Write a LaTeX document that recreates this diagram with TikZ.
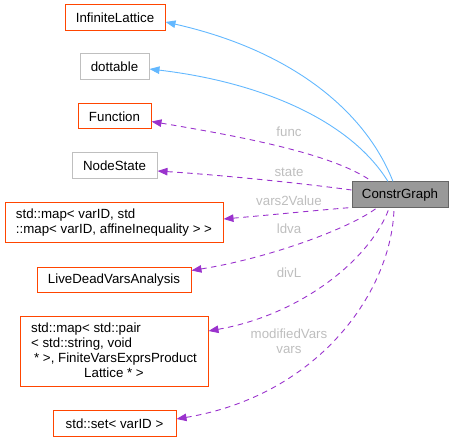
\documentclass[tikz,border=0pt]{standalone}
\usepackage{fontspec}
\setmainfont{Liberation Sans}
\usetikzlibrary{arrows.meta}
\definecolor{boxred}{HTML}{FF4500}
\definecolor{boxgray}{HTML}{BFBFBF}
\definecolor{inh}{HTML}{63B8FF}
\definecolor{use}{HTML}{9A32CD}
\definecolor{lblgray}{HTML}{BEBEBE}
\definecolor{cgfill}{HTML}{999999}
\definecolor{cgdraw}{HTML}{666666}
\tikzset{
  base/.style={draw, line width=1pt, inner sep=0pt, anchor=center,
    font=\fontsize{13.3}{14.8}\selectfont},
  redbox/.style={base, draw=boxred},
  graybox/.style={base, draw=boxgray},
  cgbox/.style={base, draw=cgdraw, fill=cgfill},
  inhedge/.style={draw=inh, line width=0.9pt, {Triangle[length=10pt,width=7.5pt]}-},
  useedge/.style={draw=use, line width=0.9pt, dash pattern=on 5.5pt off 4.5pt,
    {Triangle[length=10pt,width=7.5pt]}-},
  lbl/.style={text=lblgray, inner sep=0pt, font=\fontsize{13.3}{14.8}\selectfont, align=center}
}
\begin{document}
\begin{tikzpicture}[x=1pt,y=-1pt]
\useasboundingbox (0,0) rectangle (453,443);
\node[redbox, minimum width=100pt, minimum height=26pt] (il) at (115,18) {InfiniteLattice};
\node[graybox, minimum width=69pt, minimum height=26pt] (dt) at (114.5,67) {dottable};
\node[redbox, minimum width=73pt, minimum height=25pt] (fn) at (114.5,116.5) {Function};
\node[graybox, minimum width=85pt, minimum height=26pt] (ns) at (114.5,166) {NodeState};
\node[redbox, minimum width=218pt, minimum height=40pt] (vm) at (114,223)
  {\begin{tabular}{@{}l@{}}std::map< varID, std\\::map< varID, affineInequality > >\end{tabular}};
\node[redbox, minimum width=154pt, minimum height=25pt] (ld) at (114,280.5) {LiveDeadVarsAnalysis};
\node[redbox, minimum width=188pt, minimum height=70pt] (pm) at (114,352)
  {\begin{tabular}{@{}l@{}}std::map< std::pair\\< std::string, void\\\hspace{3pt}* >, FiniteVarsExprsProduct\\\multicolumn{1}{@{}c@{}}{Lattice * >}\end{tabular}};
\node[redbox, minimum width=123pt, minimum height=26pt] (st) at (114.5,424) {std::set< varID >};
\node[cgbox, minimum width=96pt, minimum height=26pt] (cg) at (400,195) {ConstrGraph};

% inheritance
\draw[inhedge] ([yshift=-4pt]il.east) .. controls (290,50) and (365,110) .. ([xshift=-7pt]cg.north);
\draw[inhedge] ([yshift=-2pt]dt.east) .. controls (260,82) and (350,120) .. ([xshift=-12pt]cg.north);

% usage
\draw[useedge] ([yshift=-5pt]fn.east) .. controls (250,138) and (335,155) .. ([xshift=-28pt]cg.north);
\draw[useedge] ([yshift=-5pt]ns.east) .. controls (220,175) and (300,183) .. ([yshift=5pt]cg.west);
\draw[useedge] ([yshift=4pt]vm.east) .. controls (270,215) and (320,210) .. ([yshift=1pt]cg.south west);
\draw[useedge] ([yshift=10pt]ld.east) .. controls (270,258) and (350,228) .. ([xshift=-24pt]cg.south);
\draw[useedge] ([yshift=21pt]pm.east) .. controls (300,315) and (370,260) .. ([xshift=-11pt]cg.south);
\draw[useedge] ([yshift=5pt]st.east) .. controls (320,395) and (392,290) .. ([xshift=-6pt]cg.south);

% labels
\node[lbl] (lf) at (289,132) {func};
\node[lbl] (ls) at (289,172) {state};
\node[lbl] (lv) at (289,201) {vars2Value};
\node[lbl] (ll) at (289,229) {ldva};
\node[lbl] (ldl) at (289,273) {divL};
\node[lbl] (lm) at (289,341) {modifiedVars\\vars};
\end{tikzpicture}
\end{document}
